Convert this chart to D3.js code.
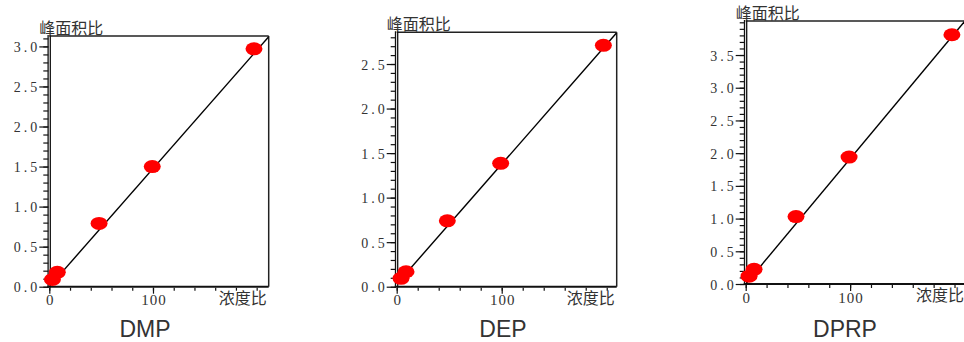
<!DOCTYPE html>
<html>
<head>
<meta charset="utf-8">
<script src="https://cdn.jsdelivr.net/npm/d3@7"></script>
<style>
  body { margin: 0; background: #fff; }
  svg { display: block; }
  .ytick text { font-family: "Liberation Serif", serif; font-size: 14px; fill: #333; letter-spacing: 3px; }
  .xtick text { font-family: "Liberation Serif", serif; font-size: 15px; fill: #333; letter-spacing: 1px; }
  .cjk { font-family: "Noto Sans CJK SC", sans-serif; font-size: 16px; fill: #333; }
  .title { font-family: "Liberation Sans", sans-serif; font-size: 23px; fill: #333; }
</style>
</head>
<body>
<div id="chart"></div>
<script>
// Define SVG area dimensions
var svgWidth = 964;
var svgHeight = 342;

// data: concentration ratio (x) and peak area ratio (y)
var titles = ["DMP", "DEP", "DPRP"];
var concDMP = [3, 7.7, 48, 99.3, 197.4];
var ratioDMP = [0.09, 0.18, 0.79, 1.5, 2.97];
var concDEP = [4.1, 8.9, 48.2, 99, 196.8];
var ratioDEP = [0.094, 0.168, 0.74, 1.385, 2.71];
var concDPRP = [3.2, 8, 48.2, 99, 197.5];
var ratioDPRP = [0.12, 0.224, 1.03, 1.94, 3.81];

// fitted lines, end points [x0, y0, x1, y1]
var fitDMP = [0, 0.0, 211.6, 3.12];
var fitDEP = [0, 0.03, 209.5, 2.85];
var fitDPRP = [0, 0.0, 211, 4.04];

// axis ranges
var xMax = [211.6, 209.5, 211];
var yMax = [3.13, 2.856, 4.02];
var xLabelTicks = [0, 100];
var yLabelTicks = [0, 0.5, 1, 1.5, 2, 2.5, 3, 3.5];
var yLabel = "峰面积比";
var xLabel = "浓度比";

// panel placement in pixels
var panels = [
  { left: 49.3, right: 268.7, top: 36, bottom: 286.7, titleX: 145, conc: concDMP, ratio: ratioDMP, fit: fitDMP },
  { left: 396.7, right: 616.7, top: 32.3, bottom: 286.7, titleX: 503, conc: concDEP, ratio: ratioDEP, fit: fitDEP },
  { left: 745.7, right: 966, top: 21, bottom: 284, titleX: 845, conc: concDPRP, ratio: ratioDPRP, fit: fitDPRP },
];

var svg = d3
  .select("#chart")
  .append("svg")
  .attr("width", svgWidth)
  .attr("height", svgHeight);

panels.forEach(function (p, i) {
  var x = d3.scaleLinear().domain([0, xMax[i]]).range([p.left, p.right]);
  var y = d3.scaleLinear().domain([0, yMax[i]]).range([p.bottom, p.top]);

  var g = svg.append("g");

  // clip for the fit line
  svg
    .append("clipPath")
    .attr("id", "clip" + i)
    .append("rect")
    .attr("x", p.left)
    .attr("y", p.top)
    .attr("width", p.right - p.left)
    .attr("height", p.bottom - p.top);

  // y minor ticks every 0.1
  var yMinor = d3.range(0, Math.floor(yMax[i] * 10) + 1).map((d) => d / 10);
  g.append("g")
    .attr("transform", `translate(${p.left - 1}, 0)`)
    .call(d3.axisLeft(y).tickValues(yMinor).tickSize(5).tickFormat(""))
    .call((a) => a.select(".domain").remove())
    .selectAll("line")
    .attr("stroke", "#111")
    .attr("stroke-width", 1.2);

  // y major ticks with labels
  var yMajor = yLabelTicks.filter((d) => d <= yMax[i]);
  var yAxis = g
    .append("g")
    .attr("class", "ytick")
    .attr("transform", `translate(${p.left - 1}, 0)`)
    .call(d3.axisLeft(y).tickValues(yMajor).tickSize(9).tickPadding(0).tickFormat(d3.format(".1f")));
  yAxis.select(".domain").remove();
  yAxis.selectAll("line").attr("stroke", "#111").attr("stroke-width", 1.2);
  yAxis.selectAll("text").attr("x", -8).attr("dy", "0.36em");

  // x minor ticks every 20
  var xMinor = d3.range(0, Math.floor(xMax[i] / 20) + 1).map((d) => d * 20);
  g.append("g")
    .attr("transform", `translate(0, ${p.bottom + 1})`)
    .call(d3.axisBottom(x).tickValues(xMinor).tickSize(3).tickFormat(""))
    .call((a) => a.select(".domain").remove())
    .selectAll("line")
    .attr("stroke", "#111")
    .attr("stroke-width", 1.2);

  // x labels
  var xAxis = g
    .append("g")
    .attr("class", "xtick")
    .attr("transform", `translate(0, ${p.bottom + 1})`)
    .call(d3.axisBottom(x).tickValues(xLabelTicks).tickSize(6).tickPadding(1).tickFormat(d3.format("d")));
  xAxis.select(".domain").remove();
  xAxis.selectAll("line").attr("stroke", "#111").attr("stroke-width", 1.2);
  xAxis.selectAll("text").attr("dx", "0.5px");

  // plot frame: thin top and right, heavy bottom, double left
  g.append("line")
    .attr("x1", p.left)
    .attr("x2", p.right)
    .attr("y1", p.top)
    .attr("y2", p.top)
    .attr("stroke", "#222")
    .attr("stroke-width", 1.5);
  g.append("line")
    .attr("x1", p.right)
    .attr("x2", p.right)
    .attr("y1", p.top)
    .attr("y2", p.bottom)
    .attr("stroke", "#222")
    .attr("stroke-width", 1.5);
  g.append("line")
    .attr("x1", p.left - 2)
    .attr("x2", p.right)
    .attr("y1", p.bottom)
    .attr("y2", p.bottom)
    .attr("stroke", "#111")
    .attr("stroke-width", 2);
  [-1.2, 1].forEach(function (off) {
    g.append("line")
      .attr("x1", p.left + off)
      .attr("x2", p.left + off)
      .attr("y1", p.top - 1)
      .attr("y2", p.bottom + 1)
      .attr("stroke", "#111")
      .attr("stroke-width", 1.3);
  });

  // fit line
  g.append("line")
    .attr("clip-path", `url(#clip${i})`)
    .attr("x1", x(p.fit[0]))
    .attr("y1", y(p.fit[1]))
    .attr("x2", x(p.fit[2]))
    .attr("y2", y(p.fit[3]))
    .attr("stroke", "#000")
    .attr("stroke-width", 1.4);

  // data points
  g.selectAll("ellipse")
    .data(p.conc)
    .enter()
    .append("ellipse")
    .attr("cx", (d) => x(d))
    .attr("cy", (d, j) => y(p.ratio[j]))
    .attr("rx", 8.5)
    .attr("ry", 6.5)
    .attr("fill", "#ff0000");

  // axis titles
  g.append("text")
    .attr("class", "cjk")
    .attr("x", p.left - 10)
    .attr("y", p.top - 2)
    .text(yLabel);
  g.append("text")
    .attr("class", "cjk")
    .attr("text-anchor", "end")
    .attr("x", p.right - 2)
    .attr("y", p.bottom + 17)
    .text(xLabel);

  // compound name
  g.append("text")
    .attr("class", "title")
    .attr("text-anchor", "middle")
    .attr("x", p.titleX)
    .attr("y", 337)
    .text(titles[i]);
});
</script>
</body>
</html>
